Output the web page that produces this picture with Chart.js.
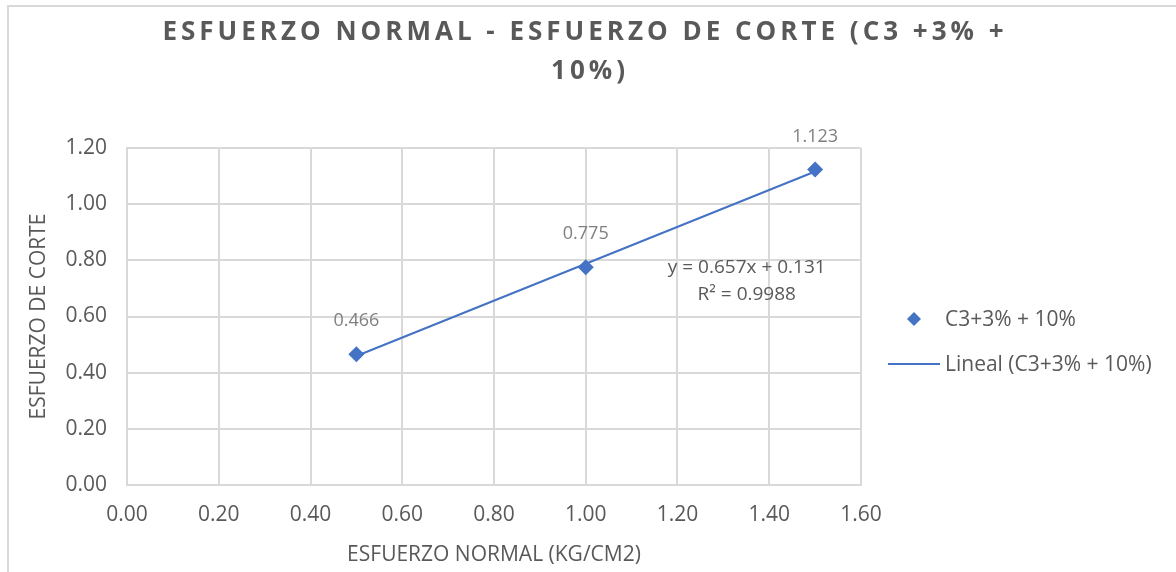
<!DOCTYPE html>
<html>
<head>
<meta charset="utf-8">
<script src="https://cdn.jsdelivr.net/npm/chart.js@4.4.1/dist/chart.umd.min.js"></script>
<style>
  html, body { margin: 0; padding: 0; background: #fff; }
  #wrap { width: 1176px; height: 572px; position: relative; }
</style>
</head>
<body>
<div id="wrap"><canvas id="chart" width="1176" height="572"></canvas></div>
<script>
/* ── Data ── */
const titleLines = ['ESFUERZO NORMAL - ESFUERZO DE CORTE (C3 +3% +', '10%)'];
const seriesName = 'C3+3% + 10%';
const trendName = 'Lineal (C3+3% + 10%)';
const normalStress = [0.5, 1.0, 1.5];
const shearStress = [0.466, 0.775, 1.123];
const pointLabels = ['0.466', '0.775', '1.123'];
const trendX = [0.5, 1.5];
const trendSlope = 0.657;
const trendIntercept = 0.131;
const trendText = ['y = 0.657x + 0.131', 'R² = 0.9988'];
const xTitle = 'ESFUERZO NORMAL (KG/CM2)';
const yTitle = 'ESFUERZO DE CORTE';

const FONT = "'Open Sans', sans-serif";
const TEXT = '#595959';
const BLUE = '#4472C4';
const GRID = '#d9d9d9';

const scatterPts = normalStress.map((x, i) => ({ x, y: shearStress[i] }));
const trendPts = trendX.map(x => ({ x, y: trendSlope * x + trendIntercept }));

/* ── Frame, title, labels, legend ── */
const decorPlugin = {
  id: 'decor',
  beforeDraw(chart) {
    const ctx = chart.ctx;
    ctx.save();
    ctx.strokeStyle = '#d9d9d9';
    ctx.lineWidth = 2;
    ctx.beginPath();
    ctx.moveTo(1176, 6);
    ctx.lineTo(8, 6);
    ctx.lineTo(8, 572);
    ctx.stroke();
    ctx.restore();
  },
  afterDraw(chart) {
    const ctx = chart.ctx;
    const xs = chart.scales.x, ys = chart.scales.y;
    ctx.save();

    // title
    ctx.fillStyle = TEXT;
    ctx.font = "bold 26px " + FONT;
    ctx.letterSpacing = '4px';
    ctx.textAlign = 'center';
    ctx.textBaseline = 'middle';
    ctx.fillText(titleLines[0], 585, 33);
    ctx.fillText(titleLines[1], 590, 72);
    ctx.letterSpacing = '0px';

    // data labels
    ctx.fillStyle = '#7f7f7f';
    ctx.font = "18px " + FONT;
    scatterPts.forEach((p, i) => {
      ctx.fillText(pointLabels[i], xs.getPixelForValue(p.x), ys.getPixelForValue(p.y) - 33);
    });

    // trendline equation
    ctx.fillStyle = TEXT;
    ctx.font = "19px " + FONT;
    ctx.fillText(trendText[0], xs.getPixelForValue(1.351), ys.getPixelForValue(0.773));
    ctx.fillText(trendText[1], xs.getPixelForValue(1.351), ys.getPixelForValue(0.677));

    // legend
    ctx.textAlign = 'left';
    ctx.font = "21px " + FONT;
    ctx.fillStyle = BLUE;
    ctx.beginPath();
    ctx.moveTo(914, 312); ctx.lineTo(921, 319); ctx.lineTo(914, 326); ctx.lineTo(907, 319);
    ctx.closePath();
    ctx.fill();
    ctx.strokeStyle = BLUE;
    ctx.lineWidth = 2;
    ctx.beginPath();
    ctx.moveTo(888, 364); ctx.lineTo(940, 364);
    ctx.stroke();
    ctx.fillStyle = TEXT;
    ctx.fillText(seriesName, 945, 320);
    ctx.fillText(trendName, 945, 365);

    ctx.restore();
  }
};

new Chart(document.getElementById('chart'), {
  type: 'scatter',
  data: {
    datasets: [
      {
        label: seriesName,
        data: scatterPts,
        pointStyle: 'rectRot',
        pointRadius: 8,
        pointHoverRadius: 8,
        backgroundColor: BLUE,
        borderColor: BLUE,
        borderWidth: 0,
        order: 1
      },
      {
        label: trendName,
        type: 'line',
        data: trendPts,
        borderColor: BLUE,
        borderWidth: 2,
        pointRadius: 0,
        fill: false,
        order: 2
      }
    ]
  },
  options: {
    responsive: false,
    animation: false,
    layout: { padding: { top: 148, right: 315, left: 0, bottom: 0 } },
    plugins: {
      legend: { display: false },
      title: { display: false },
      tooltip: { enabled: false }
    },
    scales: {
      x: {
        type: 'linear',
        min: 0,
        max: 1.6,
        ticks: {
          stepSize: 0.2,
          color: TEXT,
          font: { family: FONT, size: 21 },
          padding: 17,
          callback: v => v.toFixed(2)
        },
        grid: { color: GRID, lineWidth: 2, drawTicks: false },
        border: { color: GRID, width: 2 },
        title: {
          display: true,
          text: xTitle,
          color: TEXT,
          font: { family: FONT, size: 21 },
          padding: { top: 10 }
        },
        afterFit: s => { s.height = 87; }
      },
      y: {
        min: 0,
        max: 1.2,
        ticks: {
          stepSize: 0.2,
          color: TEXT,
          font: { family: FONT, size: 21 },
          padding: 20,
          callback: v => v.toFixed(2)
        },
        grid: { color: GRID, lineWidth: 2, drawTicks: false },
        border: { color: GRID, width: 2 },
        title: {
          display: true,
          text: yTitle,
          color: TEXT,
          font: { family: FONT, size: 21 },
          padding: { top: 26, bottom: 6 }
        },
        afterFit: s => { s.width = 127; }
      }
    }
  },
  plugins: [decorPlugin]
});
</script>
</body>
</html>
